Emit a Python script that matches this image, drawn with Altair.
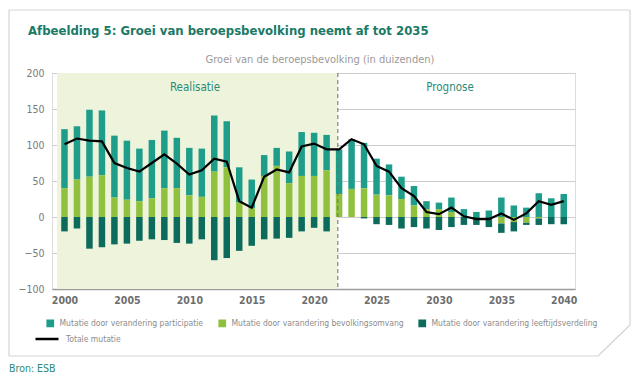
import altair as alt
import pandas as pd

# ---------------- data ----------------
years = list(range(2000, 2041))
participatie = [82, 74, 93, 90, 86, 82, 73, 81, 80, 70,
                66, 67, 78, 64, 49, 40, 29, 25, 44, 61,
                60, 49, 62, 69, 63, 50, 43, 31, 27, 11,
                9, 20, 10, 7, 9, 27, 16, 13, 33, 26,
                32]
bevolkingsomvang = [40, 52, 56, 58, 27, 24, 22, 26, 40, 40,
                    30, 28, 63, 69, 20, 12, 57, 71, 47, 57,
                    57, 65, 32, 39, 40, 31, 30, 25, 16, 11,
                    11, 7, 1, 0, 0, -9, -7, -8, -2, 0,
                    0]
leeftijdsverdeling = [-20, -16, -44, -42, -38, -37, -33, -31, -32, -36,
                      -37, -31, -60, -57, -47, -40, -31, -30, -29, -20,
                      -15, -20, 0, 0, -2, -10, -11, -16, -14, -16,
                      -18, -14, -11, -11, -14, -13, -13, -3, -9, -10,
                      -10]
totaal = [101, 109, 106, 105, 75, 68, 63, 75, 87, 74,
          59, 65, 81, 77, 22, 13, 56, 66, 62, 98,
          102, 94, 94, 108, 101, 71, 63, 40, 29, 7,
          4, 13, 1, -3, -3, 5, -4, 5, 22, 17,
          22]

series_names = ["Mutatie door verandering participatie",
                "Mutatie door varandering bevolkingsomvang",
                "Mutatie door varandering leeftijdsverdeling"]
series_colors = ["#1f9d8b", "#8fc13f", "#0c6b5c"]
stack_order = [1, 0, 2]
line_name = "Totale mutatie"
period_labels = ["Realisatie", "Prognose"]
x_start, period_split, x_end = 1999.4, 2021.9, 2040.5

title_text = "Afbeelding 5: Groei van beroepsbevolking neemt af tot 2035"
subtitle_text = "Groei van de beroepsbevolking (in duizenden)"
source_text = "Bron: ESB"

rows = []
for i, y in enumerate(years):
    for name, vals, o in zip(series_names,
                             [participatie, bevolkingsomvang, leeftijdsverdeling],
                             stack_order):
        rows.append({"jaar": y, "serie": name, "waarde": vals[i], "volgorde": o})
bars_df = pd.DataFrame(rows)
line_df = pd.DataFrame({"jaar": years, "totaal": totaal, "serie": line_name})
period_df = pd.DataFrame({"start": [x_start], "split": [period_split]})

# ---------------- styling ----------------
FONT = "DejaVu Sans Condensed, sans-serif"
W, H = 523, 216

x_scale = alt.Scale(domain=[x_start, x_end], nice=False, zero=False)
y_scale = alt.Scale(domain=[-100, 200], nice=False)
x_axis = alt.Axis(title=None, values=list(range(2000, 2041, 5)), format="d",
                  grid=False, ticks=False, domainColor="#9c9c9c", domainWidth=1.5,
                  labelColor="#6e6e6e", labelFont=FONT, labelFontSize=10.5,
                  labelFontWeight="bold", labelPadding=6, labelFlush=False)
y_axis = alt.Axis(title=None, values=[-100, -50, 0, 50, 100, 150, 200],
                  grid=True, gridColor="#cdcdcd", domain=False, ticks=False,
                  labelColor="#7a7a7a", labelFont=FONT, labelFontSize=10.5,
                  labelPadding=8)

shade = alt.Chart(period_df).mark_rect(color="#eef3dc").encode(
    x=alt.X("start:Q", scale=x_scale, axis=x_axis),
    x2="split:Q",
)

bars = alt.Chart(bars_df).mark_bar(size=6.5).encode(
    x=alt.X("jaar:Q", scale=x_scale, axis=x_axis),
    y=alt.Y("waarde:Q", stack="zero", scale=y_scale, axis=y_axis),
    color=alt.Color("serie:N",
                    scale=alt.Scale(domain=series_names, range=series_colors),
                    legend=alt.Legend(title=None, orient="none", legendX=-6, legendY=246,
                                      direction="horizontal", symbolType="square",
                                      symbolSize=60, symbolStrokeWidth=0,
                                      labelFont=FONT, labelFontSize=8.5,
                                      labelColor="#8c8c8c", columnPadding=14,
                                      labelOffset=5, padding=0, labelLimit=400)),
    order=alt.Order("volgorde:Q"),
)

divider = alt.Chart(period_df).mark_rule(color="#6a6a6a", strokeDash=[4, 3],
                                         strokeWidth=1).encode(
    x=alt.X("split:Q", scale=x_scale, axis=x_axis),
)

line = alt.Chart(line_df).mark_line(strokeWidth=2.2).encode(
    x=alt.X("jaar:Q", scale=x_scale, axis=x_axis),
    y=alt.Y("totaal:Q", scale=y_scale, axis=y_axis),
    stroke=alt.Stroke("serie:N",
                      scale=alt.Scale(domain=[line_name], range=["#000000"]),
                      legend=alt.Legend(title=None, orient="none", legendX=-18, legendY=253,
                                        symbolType="stroke", symbolSize=530,
                                        symbolStrokeWidth=2.5, labelFont=FONT,
                                        labelFontSize=8.5, labelColor="#8c8c8c",
                                        labelOffset=6, padding=0, labelLimit=400)),
)


def label(text, x, y, size, color, weight="normal", align="center"):
    return alt.Chart(pd.DataFrame({"t": [text]})).mark_text(
        align=align, baseline="middle", font=FONT, fontSize=size,
        fontWeight=weight, color=color,
    ).encode(x=alt.value(x), y=alt.value(y), text="t:N")


title = label(title_text, -24, -42, 13, "#1b7a66", "bold", "left")
subtitle = label(subtitle_text, 268, -13, 11, "#9a9a9a")
real_lbl = label(period_labels[0], 143, 15, 11.5, "#2a8a78")
prog_lbl = label(period_labels[1], 398, 15, 11.5, "#2a8a78")
source = label(source_text, -43, 296, 10.5, "#2a8a78", "normal", "left")

frame_df = pd.DataFrame({"a": [0]})


def seg(x1, y1, x2, y2):
    return alt.Chart(frame_df).mark_rule(color="#d4d4d4", strokeWidth=1.2).encode(
        x=alt.value(x1), y=alt.value(y1), x2=alt.value(x2), y2=alt.value(y2))


frame = [seg(-43, -63, 578, -63), seg(-43, -63, -43, 283), seg(-43, 283, 546, 283),
         seg(578, -63, 578, 252), seg(578, 252, 546, 283)]

chart = alt.layer(
    shade, bars, divider, line, title, subtitle, real_lbl, prog_lbl, source, *frame
).resolve_scale(color="independent", stroke="independent").properties(
    width=W, height=H,
    padding={"left": 44, "top": 65, "right": 57, "bottom": 88},
    autosize=alt.AutoSizeParams(type="none"),
).configure_view(stroke=None).configure(background="#ffffff")

chart.save("out.html", embed_options={"renderer": "svg", "actions": False})
